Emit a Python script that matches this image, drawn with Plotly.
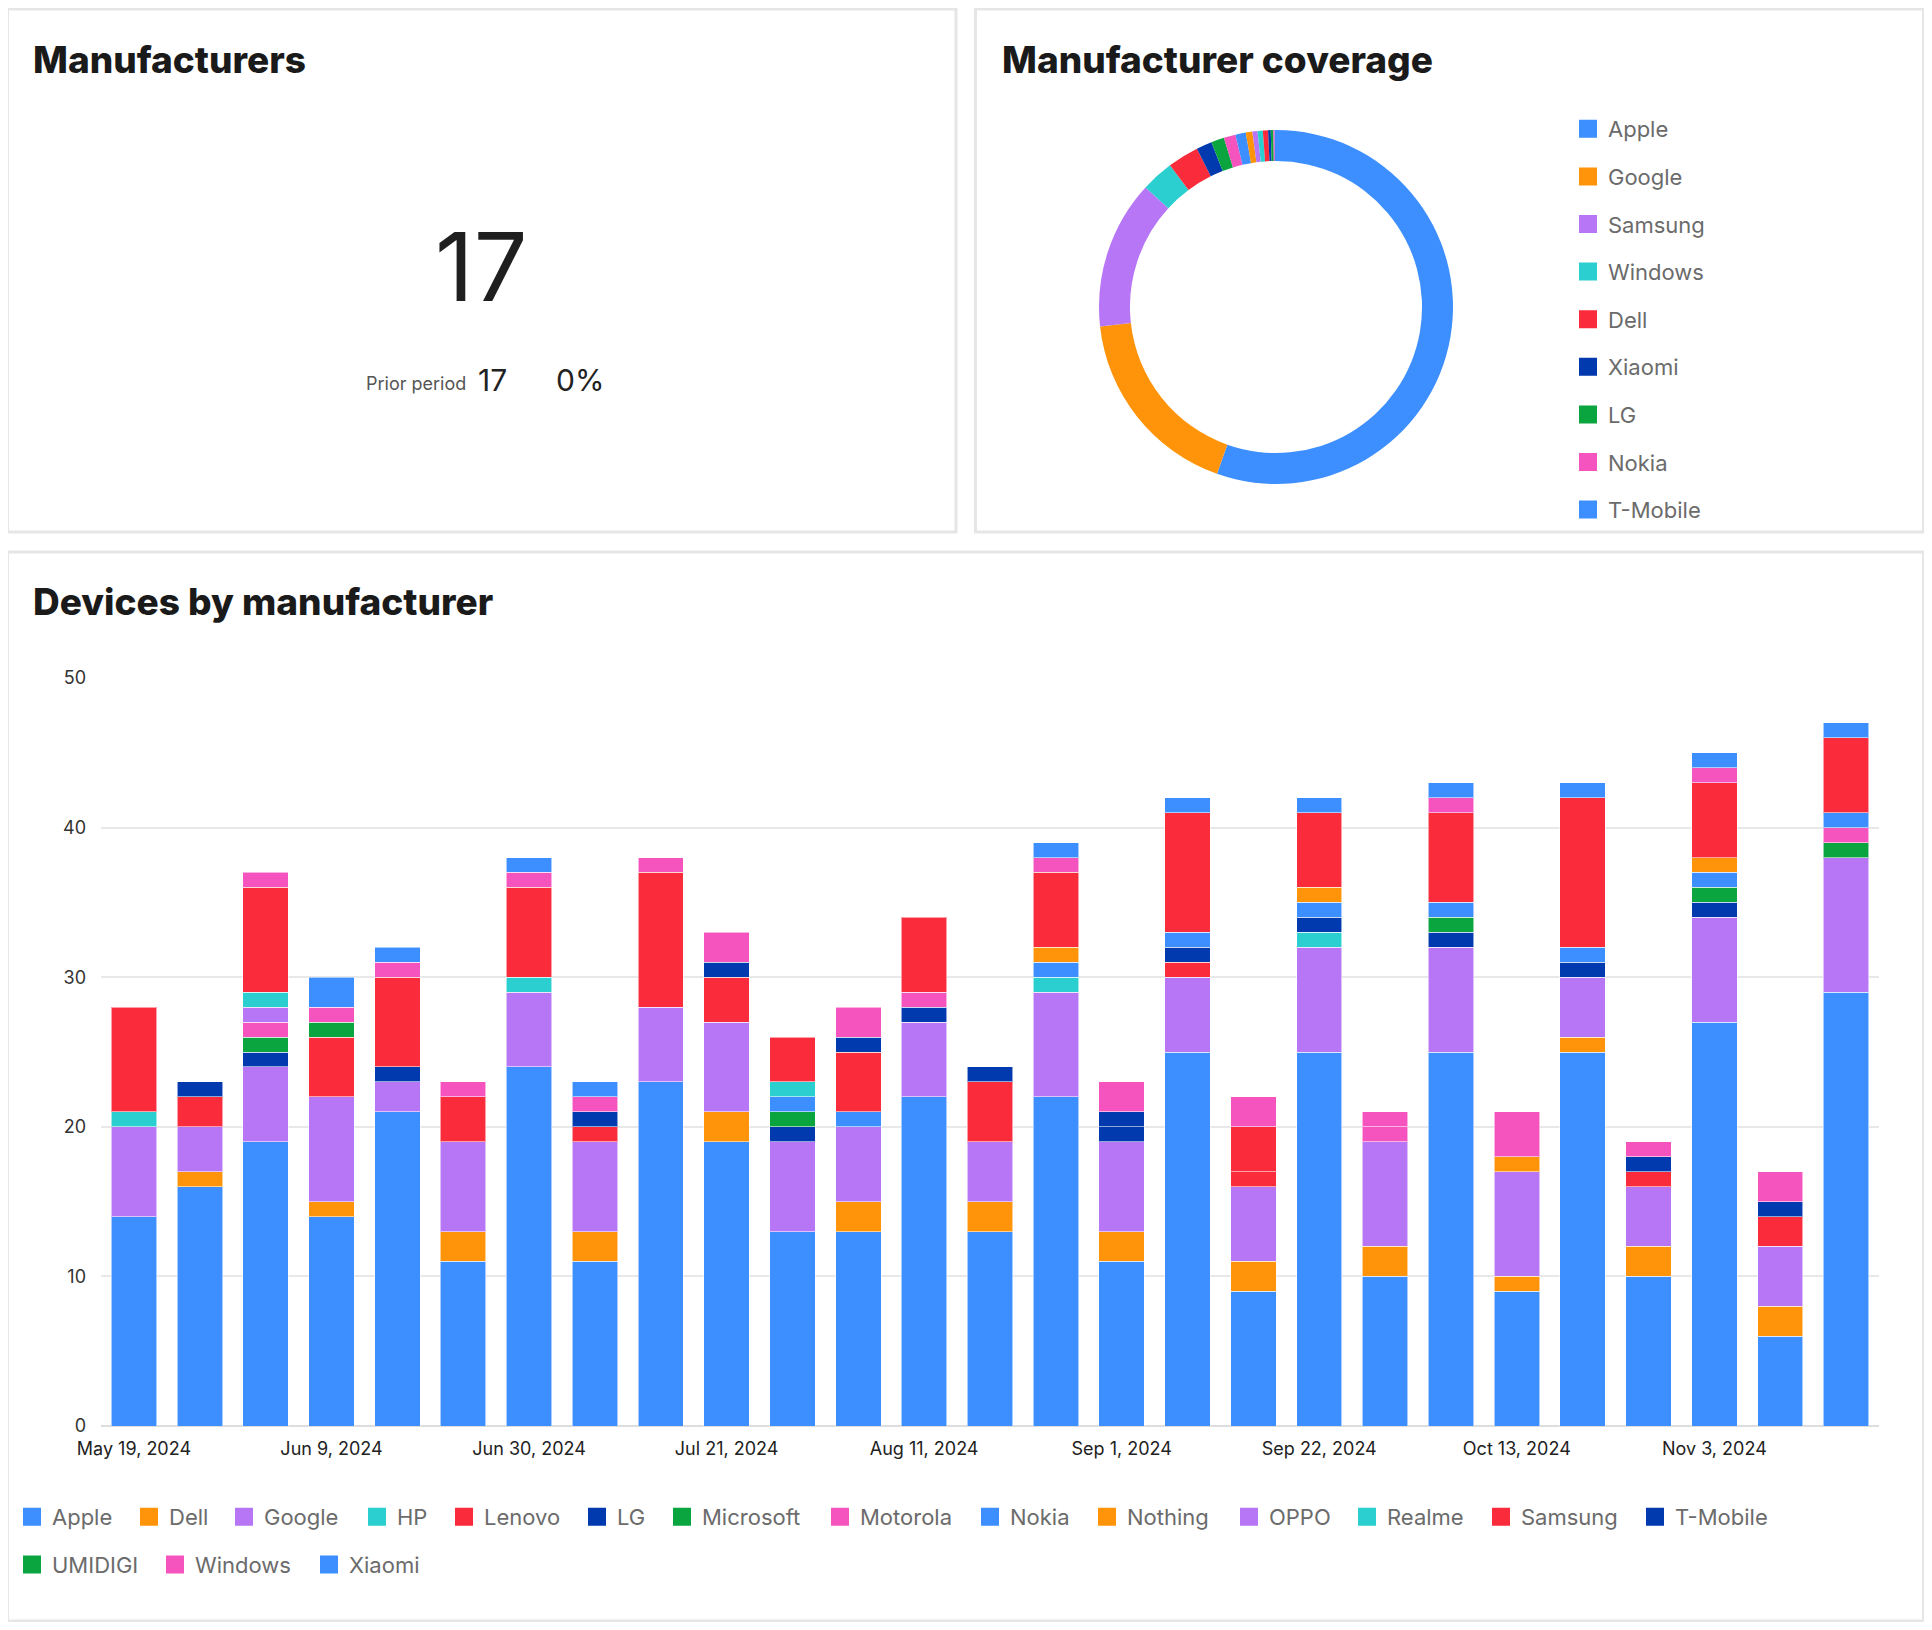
import plotly.graph_objects as go

# ---------------- data ----------------
weeks = ["2024-05-19", "2024-05-26", "2024-06-02", "2024-06-09", "2024-06-16", "2024-06-23",
         "2024-06-30", "2024-07-07", "2024-07-14", "2024-07-21", "2024-07-28", "2024-08-04",
         "2024-08-11", "2024-08-18", "2024-08-25", "2024-09-01", "2024-09-08", "2024-09-15",
         "2024-09-22", "2024-09-29", "2024-10-06", "2024-10-13", "2024-10-20", "2024-10-27",
         "2024-11-03", "2024-11-10", "2024-11-17"]

apple     = [14, 16, 19, 14, 21, 11, 24, 11, 23, 19, 13, 13, 22, 13, 22, 11, 25, 9, 25, 10, 25, 9, 25, 10, 27, 6, 29]
dell      = [0, 1, 0, 1, 0, 2, 0, 2, 0, 2, 0, 2, 0, 2, 0, 2, 0, 2, 0, 2, 0, 1, 1, 2, 0, 2, 0]
google    = [6, 3, 5, 7, 2, 6, 5, 6, 5, 6, 6, 5, 5, 4, 7, 6, 5, 5, 7, 7, 7, 7, 4, 4, 7, 4, 9]
hp        = [0, 0, 0, 0, 0, 0, 0, 0, 0, 0, 0, 0, 0, 0, 1, 0, 0, 0, 1, 0, 0, 0, 0, 0, 0, 0, 0]
lenovo    = [0, 0, 0, 0, 0, 0, 0, 0, 0, 0, 0, 0, 0, 0, 0, 0, 1, 1, 0, 0, 0, 0, 0, 0, 0, 0, 0]
lg        = [0, 0, 1, 0, 1, 0, 0, 0, 0, 0, 1, 0, 1, 0, 0, 1, 1, 0, 1, 0, 1, 0, 1, 0, 1, 0, 0]
microsoft = [0, 0, 1, 0, 0, 0, 0, 0, 0, 0, 1, 0, 0, 0, 0, 0, 0, 0, 0, 0, 1, 0, 0, 0, 1, 0, 1]
motorola  = [0, 0, 1, 0, 0, 0, 0, 0, 0, 0, 0, 0, 1, 0, 0, 0, 0, 0, 0, 1, 0, 0, 0, 0, 0, 0, 1]
nokia     = [0, 0, 0, 0, 0, 0, 0, 0, 0, 0, 1, 1, 0, 0, 1, 0, 1, 0, 1, 0, 1, 0, 1, 0, 1, 0, 1]
nothing   = [0, 0, 0, 0, 0, 0, 0, 0, 0, 0, 0, 0, 0, 0, 1, 0, 0, 0, 1, 0, 0, 1, 0, 0, 1, 0, 0]
oppo      = [0, 0, 1, 0, 0, 0, 0, 0, 0, 0, 0, 0, 0, 0, 0, 0, 0, 0, 0, 0, 0, 0, 0, 0, 0, 0, 0]
realme    = [1, 0, 1, 0, 0, 0, 1, 0, 0, 0, 1, 0, 0, 0, 0, 0, 0, 0, 0, 0, 0, 0, 0, 0, 0, 0, 0]
samsung   = [7, 2, 7, 4, 6, 3, 6, 1, 9, 3, 3, 4, 5, 4, 5, 0, 8, 3, 5, 0, 6, 0, 10, 1, 5, 2, 5]
tmobile   = [0, 1, 0, 0, 0, 0, 0, 1, 0, 1, 0, 1, 0, 1, 0, 1, 0, 0, 0, 0, 0, 0, 0, 1, 0, 1, 0]
umidigi   = [0, 0, 0, 1, 0, 0, 0, 0, 0, 0, 0, 0, 0, 0, 0, 0, 0, 0, 0, 0, 0, 0, 0, 0, 0, 0, 0]
windows   = [0, 0, 1, 1, 1, 1, 1, 1, 1, 2, 0, 2, 0, 0, 1, 2, 0, 2, 0, 1, 1, 3, 0, 1, 1, 2, 0]
xiaomi    = [0, 0, 0, 2, 1, 0, 1, 1, 0, 0, 0, 0, 0, 0, 1, 0, 1, 0, 1, 0, 1, 0, 1, 0, 1, 0, 1]

series = [("Apple", apple), ("Dell", dell), ("Google", google), ("HP", hp), ("Lenovo", lenovo),
          ("LG", lg), ("Microsoft", microsoft), ("Motorola", motorola), ("Nokia", nokia),
          ("Nothing", nothing), ("OPPO", oppo), ("Realme", realme), ("Samsung", samsung),
          ("T-Mobile", tmobile), ("UMIDIGI", umidigi), ("Windows", windows), ("Xiaomi", xiaomi)]

coverage_labels = ["Apple", "Google", "Samsung", "Windows", "Dell", "Xiaomi", "LG", "Nokia",
                   "T-Mobile", "Microsoft", "Motorola", "Nothing", "Realme", "HP", "Lenovo",
                   "OPPO", "UMIDIGI"]
coverage_values = [466, 150, 114, 25, 24, 12, 10, 9, 8, 5, 4, 4, 4, 2, 2, 1, 1]
coverage_legend_visible = 9   # entries visible in the (scroll-clipped) legend box

kpi_value = "17"
kpi_prior = "17"
kpi_change = "0%"

# ---------------- style ----------------
palette = ["#3D8FFF", "#FF940A", "#B776F5", "#2BCFCF", "#FA2B3B", "#003AAE", "#0BA540", "#F553BE"]
legend_entry_width = {"Apple": 72, "Dell": 50, "Google": 88, "HP": 42, "Lenovo": 88, "LG": 40,
                      "Microsoft": 113, "Motorola": 105, "Nokia": 72, "Nothing": 97, "OPPO": 73,
                      "Realme": 89, "Samsung": 109, "T-Mobile": 107, "UMIDIGI": 98,
                      "Windows": 109, "Xiaomi": 82}
FONT = "Inter"
PAGE_OFF = 8                  # default page margin around the figure
W, H = 1932 - 2 * PAGE_OFF, 1630 - 2 * PAGE_OFF
ML, MR = 0, 45
PW = W - ML - MR


def fx(x):
    return (x - PAGE_OFF - ML) / PW


def fy(y):
    return 1 - (y - PAGE_OFF) / H


def swatch(color):
    return dict(symbol="square", size=16, color=color, line=dict(color=color, width=2))


fig = go.Figure()

# stacked bars
for i, (name, vals) in enumerate(series):
    col = palette[i % len(palette)]
    fig.add_trace(go.Bar(
        x=weeks, y=[v if v else None for v in vals], name=name,
        marker=dict(color=col, line=dict(color="rgba(255,255,255,0.55)", width=1)),
        legend="legend2", legendgroup="bar_" + name, showlegend=False,
    ))
    # legend swatch for this bar series (same legend group)
    fig.add_trace(go.Scatter(
        x=[None], y=[None], mode="markers", name=name, marker=swatch(col),
        legend="legend2", legendgroup="bar_" + name, showlegend=True,
        legendwidth=legend_entry_width[name], hoverinfo="skip",
    ))

# donut
fig.add_trace(go.Pie(
    labels=coverage_labels, values=coverage_values,
    marker=dict(colors=[palette[i % len(palette)] for i in range(len(coverage_labels))],
                line=dict(width=0)),
    hole=0.825, sort=False, direction="clockwise", rotation=0,
    textinfo="none", showlegend=False,
    domain=dict(x=[fx(1099), fx(1453)], y=[fy(484), fy(130)]),
))

# legend entries for the donut
for i, lab in enumerate(coverage_labels[:coverage_legend_visible]):
    fig.add_trace(go.Scatter(
        x=[None], y=[None], mode="markers", name=lab,
        marker=swatch(palette[i % len(palette)]),
        legend="legend", legendgroup="pie_" + lab, hoverinfo="skip",
    ))

shapes = []
for (x0, y0, x1, y1) in [(7.5, 9, 956, 532), (975.5, 9, 1923.5, 532), (7.5, 552, 1923.5, 1621)]:
    shapes.append(dict(type="rect", xref="paper", yref="paper",
                       x0=fx(x0), x1=fx(x1), y0=fy(y1), y1=fy(y0),
                       line=dict(color="#E6E6E6", width=3), fillcolor="rgba(0,0,0,0)",
                       layer="below"))

title_font = dict(family=FONT, size=37, color="#1A1A1A", weight=800)
annotations = [
    dict(text="Manufacturers", x=fx(31), y=fy(59), xanchor="left", yanchor="middle",
         font=title_font),
    dict(text="Manufacturer coverage", x=fx(1000), y=fy(59), xanchor="left", yanchor="middle",
         font=title_font),
    dict(text="Devices by manufacturer", x=fx(31), y=fy(602), xanchor="left", yanchor="middle",
         font=title_font),
    dict(text=kpi_value, x=fx(481), y=fy(267), xanchor="center", yanchor="middle",
         font=dict(family=FONT, size=95, color="#1F1F1F")),
    dict(text="Prior period", x=fx(468), y=fy(384), xanchor="right", yanchor="middle",
         font=dict(family=FONT, size=18, color="#555555")),
    dict(text=kpi_prior, x=fx(476), y=fy(380), xanchor="left", yanchor="middle",
         font=dict(family=FONT, size=30, color="#222222")),
    dict(text=kpi_change, x=fx(554), y=fy(380), xanchor="left", yanchor="middle",
         font=dict(family=FONT, size=30, color="#222222")),
]
for a in annotations:
    a.update(xref="paper", yref="paper", showarrow=False)

fig.update_layout(
    width=W, height=H,
    margin=dict(l=ML, r=MR, t=0, b=0, pad=0, autoexpand=False),
    paper_bgcolor="white", plot_bgcolor="white",
    font=dict(family=FONT, color="#333333"),
    barmode="stack", bargap=0.31,
    showlegend=True,
    shapes=shapes, annotations=annotations,
    xaxis=dict(
        domain=[fx(101), 1.0], type="date", automargin=False,
        range=["2024-05-15 12:00", "2024-11-20 12:00"],
        tick0="2024-05-19", dtick=21 * 86400000, tickformat="%b %-d, %Y",
        showgrid=False, showline=False, zeroline=False, ticks="",
        tickfont=dict(family=FONT, size=18, color="#222222"),
        ticklabelstandoff=10,
    ),
    yaxis=dict(
        domain=[fy(1426), fy(678)], range=[0, 50], dtick=10, automargin=False,
        showgrid=True, gridcolor="#E8E8E8", gridwidth=1.5,
        zeroline=True, zerolinecolor="#DDDDDD", zerolinewidth=2,
        showline=False, ticks="",
        tickfont=dict(family=FONT, size=18, color="#333333"),
        ticklabelstandoff=14,
    ),
    legend=dict(
        orientation="v", x=fx(1568), xanchor="left", y=fy(108), yanchor="top",
        traceorder="grouped", tracegroupgap=16,
        font=dict(family=FONT, size=22, color="#6B6B6B"),
        bgcolor="rgba(0,0,0,0)", borderwidth=0,
    ),
    legend2=dict(
        orientation="h", x=fx(12), xanchor="left", y=fy(1496), yanchor="top",
        traceorder="grouped", tracegroupgap=16,
        font=dict(family=FONT, size=22, color="#6B6B6B"),
        bgcolor="rgba(0,0,0,0)", borderwidth=0,
    ),
)

fig.write_html("out.html")
